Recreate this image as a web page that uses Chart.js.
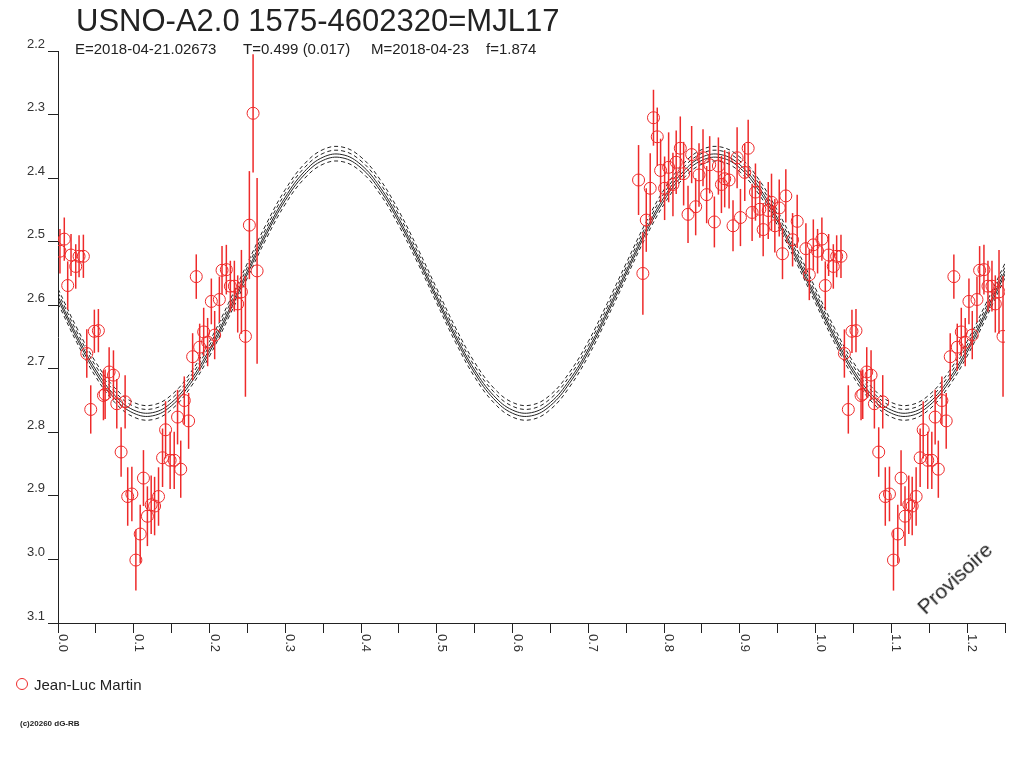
<!DOCTYPE html>
<html>
<head>
<meta charset="utf-8">
<title>USNO-A2.0 1575-4602320=MJL17</title>
<script src="https://cdn.jsdelivr.net/npm/chart.js@4.4.1/dist/chart.umd.min.js"></script>
<style>
  html, body { margin: 0; padding: 0; background: #fff; }
  body { width: 1024px; height: 768px; position: relative; overflow: hidden; font-family: "Liberation Sans", Arial, sans-serif; color: #222; }
  #myChart { position: absolute; left: 0; top: 0; }
  .txt { position: absolute; white-space: pre; line-height: 1; }
  #titre { left: 76px; top: 5px; font-size: 31px; }
  .sous { top: 41px; font-size: 15px; }
  #legende-rond { position: absolute; left: 16px; top: 678px; width: 12px; height: 12px; border: 1px solid #ee2a2a; border-radius: 50%; box-sizing: border-box; }
  #legende { left: 34px; top: 677px; font-size: 15px; }
  #copy { left: 20px; top: 720px; font-size: 8px; font-weight: bold; }
  #provisoire { left: 906px; top: 564px; font-size: 21px; transform: rotate(-43deg); transform-origin: 52px 10px; }
</style>
</head>
<body>
<canvas id="myChart" width="1024" height="768"></canvas>
<div class="txt" id="titre">USNO-A2.0 1575-4602320=MJL17</div>
<div class="txt sous" style="left:75px">E=2018-04-21.02673</div>
<div class="txt sous" style="left:243px">T=0.499 (0.017)</div>
<div class="txt sous" style="left:371px">M=2018-04-23</div>
<div class="txt sous" style="left:486px">f=1.874</div>
<div id="legende-rond"></div>
<div class="txt" id="legende">Jean-Luc Martin</div>
<div class="txt" id="copy">(c)20260 dG-RB</div>
<div class="txt" id="provisoire">Provisoire</div>
<script>
const chart = document.querySelector("#myChart");
const ROUGE = "#ee2a2a";

// observations, phase 0.00 - 0.26 (repetees a phase + 1)
const phaseA = [0.0083, 0.0026, 0.0172, 0.0234, 0.0278, 0.0335, 0.0128, 0.0480, 0.0533, 0.0380,
  0.0675, 0.0732, 0.0600, 0.0622, 0.0432, 0.0776, 0.0886, 0.0833, 0.1128, 0.0920,
  0.0975, 0.1085, 0.1028, 0.1180, 0.1230, 0.1275, 0.1327, 0.1380, 0.1420, 0.1480,
  0.1534, 0.1620, 0.1578, 0.1724, 0.1667, 0.1777, 0.1870, 0.1923, 0.1975, 0.2068,
  0.1825, 0.2024, 0.2130, 0.2165, 0.2222, 0.2275, 0.2328, 0.2372, 0.2421, 0.2474,
  0.2526, 0.2575, 0.2628];
const magA = [2.496, 2.515, 2.521, 2.539, 2.523, 2.523, 2.569, 2.641, 2.640, 2.676,
  2.705, 2.710, 2.742, 2.740, 2.764, 2.755, 2.752, 2.831, 2.872, 2.901,
  2.897, 2.960, 3.001, 2.932, 2.914, 2.916, 2.901, 2.840, 2.796, 2.844,
  2.844, 2.858, 2.776, 2.782, 2.750, 2.681, 2.666, 2.642, 2.658, 2.647,
  2.555, 2.594, 2.591, 2.545, 2.544, 2.570, 2.570, 2.598, 2.579, 2.649,
  2.474, 2.298, 2.546];
const errA = [0.034, 0.035, 0.033, 0.035, 0.033, 0.034, 0.038, 0.034, 0.034, 0.038,
  0.039, 0.039, 0.039, 0.039, 0.038, 0.039, 0.042, 0.039, 0.044, 0.046,
  0.043, 0.046, 0.048, 0.047, 0.046, 0.046, 0.046, 0.046, 0.045, 0.045,
  0.045, 0.045, 0.043, 0.044, 0.038, 0.037, 0.037, 0.038, 0.038, 0.038,
  0.035, 0.036, 0.036, 0.038, 0.039, 0.040, 0.040, 0.045, 0.066, 0.095,
  0.085, 0.093, 0.146];

// observations, phase 0.76 - 1.00
const phaseB = [0.7663, 0.7720, 0.7765, 0.7817, 0.7860, 0.7910, 0.7954, 0.8007, 0.8060, 0.8117,
  0.8160, 0.8214, 0.8258, 0.8316, 0.8364, 0.8417, 0.8461, 0.8514, 0.8562, 0.8602,
  0.8664, 0.8717, 0.8757, 0.8800, 0.8858, 0.8910, 0.8964, 0.9008, 0.9065, 0.9110,
  0.9162, 0.9206, 0.9264, 0.9308, 0.9375, 0.9418, 0.9462, 0.9520, 0.9563, 0.9607,
  0.9696, 0.9757, 0.9872, 0.9917, 0.9970];
const magB = [2.403, 2.550, 2.466, 2.416, 2.305, 2.335, 2.388, 2.416, 2.383, 2.410,
  2.375, 2.353, 2.393, 2.457, 2.363, 2.445, 2.395, 2.368, 2.426, 2.379,
  2.469, 2.381, 2.410, 2.401, 2.403, 2.475, 2.368, 2.462, 2.391, 2.353,
  2.454, 2.422, 2.449, 2.481, 2.451, 2.438, 2.475, 2.447, 2.519, 2.428,
  2.497, 2.468, 2.511, 2.552, 2.505];
const errB = [0.055, 0.065, 0.050, 0.055, 0.044, 0.046, 0.050, 0.050, 0.055, 0.050,
  0.050, 0.050, 0.050, 0.045, 0.045, 0.045, 0.050, 0.045, 0.045, 0.045,
  0.040, 0.045, 0.045, 0.045, 0.045, 0.040, 0.048, 0.045, 0.045, 0.045,
  0.045, 0.045, 0.045, 0.042, 0.045, 0.045, 0.042, 0.045, 0.040, 0.042,
  0.042, 0.042, 0.040, 0.040, 0.040];

// courbe ajustee
const fitPhase = [0.000, 0.025, 0.050, 0.075, 0.100, 0.125, 0.150, 0.175, 0.200, 0.225,
  0.250, 0.275, 0.300, 0.325, 0.350, 0.375, 0.400, 0.425, 0.450, 0.475,
  0.500, 0.525, 0.550, 0.575, 0.600, 0.625, 0.650, 0.675, 0.700, 0.725,
  0.750, 0.775, 0.800, 0.825, 0.850, 0.875, 0.900, 0.925, 0.950, 0.975,
  1.000, 1.025, 1.050, 1.075, 1.100, 1.125, 1.150, 1.175, 1.200, 1.225, 1.250];
const fitMag = [2.586, 2.648, 2.702, 2.742, 2.765, 2.769, 2.753, 2.718, 2.669, 2.609,
  2.546, 2.484, 2.430, 2.390, 2.367, 2.363, 2.379, 2.414, 2.464, 2.523,
  2.586, 2.648, 2.702, 2.742, 2.765, 2.769, 2.753, 2.718, 2.669, 2.609,
  2.546, 2.484, 2.430, 2.390, 2.367, 2.363, 2.379, 2.414, 2.464, 2.523,
  2.586, 2.648, 2.702, 2.742, 2.765, 2.769, 2.753, 2.718, 2.669, 2.609, 2.546];
// ecarts des courbes d'incertitude (mag)
const bandOffsets = [-0.012, -0.006, 0, 0.005, 0.011];
const bandDashed = [true, true, false, false, true];

const xTickLabels = ["0.0", "0.1", "0.2", "0.3", "0.4", "0.5", "0.6", "0.7", "0.8", "0.9", "1.0", "1.1", "1.2"];

// points + barres d'erreur
const obs = [];
phaseA.forEach((p, i) => {
  obs.push({ x: p, y: magA[i], e: errA[i] });
  if (p + 1 <= 1.25) obs.push({ x: p + 1, y: magA[i], e: errA[i] });
});
phaseB.forEach((p, i) => obs.push({ x: p, y: magB[i], e: errB[i] }));

const barresErreur = {
  id: "barresErreur",
  afterDatasetsDraw(c) {
    const { ctx, chartArea, scales } = c;
    ctx.save();
    ctx.beginPath();
    ctx.rect(chartArea.left, chartArea.top, chartArea.width, chartArea.height);
    ctx.clip();
    ctx.strokeStyle = ROUGE;
    ctx.lineWidth = 1.5;
    obs.forEach((p) => {
      const px = scales.x.getPixelForValue(p.x);
      ctx.beginPath();
      ctx.moveTo(px, scales.y.getPixelForValue(p.y - p.e));
      ctx.lineTo(px, scales.y.getPixelForValue(p.y + p.e));
      ctx.stroke();
    });
    ctx.restore();
  }
};

// etiquettes de l'axe x, tournees de 90 degres
const etiquettesX = {
  id: "etiquettesX",
  afterDraw(c) {
    const { ctx } = c;
    const xs = c.scales.x;
    ctx.save();
    ctx.font = '13px "Liberation Sans", Arial, sans-serif';
    ctx.fillStyle = "#333";
    ctx.textAlign = "left";
    ctx.textBaseline = "alphabetic";
    xTickLabels.forEach((lab) => {
      const px = xs.getPixelForValue(parseFloat(lab));
      ctx.save();
      ctx.translate(px + 1, xs.top + 11);
      ctx.rotate(Math.PI / 2);
      ctx.fillText(lab, 0, 0);
      ctx.restore();
    });
    ctx.restore();
  }
};

const courbes = bandOffsets.map((off, k) => ({
  type: "line",
  label: "fit" + k,
  data: fitPhase.map((p, i) => ({ x: p, y: fitMag[i] + off })),
  borderColor: "#222",
  borderWidth: 1,
  borderDash: bandDashed[k] ? [4, 3] : [],
  pointRadius: 0,
  tension: 0.4,
  fill: false
}));

const config = {
  type: "scatter",
  data: {
    datasets: [
      {
        label: "Jean-Luc Martin",
        data: obs.map((p) => ({ x: p.x, y: p.y })),
        pointStyle: "circle",
        pointRadius: 6,
        borderColor: ROUGE,
        backgroundColor: "rgba(0,0,0,0)",
        borderWidth: 1
      },
      ...courbes
    ]
  },
  options: {
    responsive: false,
    animation: false,
    devicePixelRatio: 1,
    layout: { padding: { top: 51, right: 19, left: 0, bottom: 0 } },
    plugins: { legend: { display: false }, tooltip: { enabled: false } },
    scales: {
      x: {
        type: "linear",
        min: 0,
        max: 1.25,
        afterFit: (s) => { s.height = 145; },
        ticks: { stepSize: 0.05, autoSkip: false, display: false },
        grid: { drawOnChartArea: false, drawTicks: true, tickLength: 10, color: "#222" },
        border: { display: true, color: "#222", width: 1 }
      },
      y: {
        type: "linear",
        reverse: true,
        min: 2.2,
        max: 3.1,
        afterFit: (s) => { s.width = 58; },
        ticks: {
          stepSize: 0.1,
          padding: 3,
          labelOffset: -7,
          color: "#333",
          font: { family: '"Liberation Sans", Arial, sans-serif', size: 13 },
          callback: (v) => v.toFixed(1)
        },
        grid: { drawOnChartArea: false, drawTicks: true, tickLength: 10, color: "#222" },
        border: { display: true, color: "#222", width: 1 }
      }
    }
  },
  plugins: [barresErreur, etiquettesX]
};

const myChart = new Chart(chart, config);
</script>
</body>
</html>
